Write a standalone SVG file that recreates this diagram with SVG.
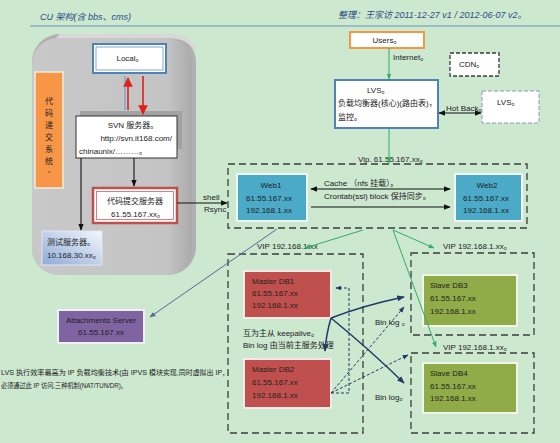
<svg xmlns="http://www.w3.org/2000/svg" width="560" height="443" viewBox="0 0 560 443">
<defs>
<style>
text{font-family:"Liberation Sans","Noto Sans CJK SC",sans-serif;font-size:8px;fill:#222}
.ttl{font-style:italic;fill:#2c4d86;font-size:9px}
.mid{text-anchor:middle}
.dash{fill:none;stroke:#3c3c3c;stroke-width:1.3;stroke-dasharray:7,4}
.c-blk{fill:none;stroke:#111;stroke-width:1.1}
.c-grn{fill:none;stroke:#2fae6a;stroke-width:1}
.c-nav{fill:none;stroke:#1f3a68;stroke-width:1.5}
.c-ndash{fill:none;stroke:#1f3a68;stroke-width:1;stroke-dasharray:3,2}
.c-sl{fill:none;stroke:#5c6598;stroke-width:1}
.web{fill:#4aaac8;stroke:#eef6f8;stroke-width:2}
.mdb{fill:#c0504d;stroke:#f4eaea;stroke-width:2}
.sdb{fill:#90ac48;stroke:#f2f5ea;stroke-width:2}
.note{font-size:7px}
</style>
<marker id="ab" viewBox="0 0 10 10" refX="9" refY="5" markerWidth="6" markerHeight="6" orient="auto-start-reverse"><path d="M0,1 L10,5 L0,9z" fill="#111"/></marker>
<marker id="ag" viewBox="0 0 10 10" refX="9" refY="5" markerWidth="6" markerHeight="6" orient="auto"><path d="M0,1 L10,5 L0,9z" fill="#2fae6a"/></marker>
<marker id="an" viewBox="0 0 10 10" refX="9" refY="5" markerWidth="5" markerHeight="5" orient="auto"><path d="M0,1 L10,5 L0,9z" fill="#1f3a68"/></marker>
<marker id="and" viewBox="0 0 10 10" refX="9" refY="5" markerWidth="6" markerHeight="6" orient="auto"><path d="M0,1 L10,5 L0,9z" fill="#1f3a68"/></marker>
<marker id="as" viewBox="0 0 10 10" refX="9" refY="5" markerWidth="6" markerHeight="6" orient="auto"><path d="M0,1 L10,5 L0,9z" fill="#5c6598"/></marker>
<marker id="ar" viewBox="0 0 10 10" refX="9" refY="5" markerWidth="6" markerHeight="6" orient="auto"><path d="M0,0 L10,5 L0,10z" fill="#e0201c"/></marker>
<linearGradient id="gtest" x1="0" y1="1" x2="1" y2="0"><stop offset="0" stop-color="#8eaad8"/><stop offset="1" stop-color="#f4f7fb"/></linearGradient>
<linearGradient id="gbox" x1="0" y1="0" x2="1" y2="0"><stop offset="0" stop-color="#c8c8c8"/><stop offset="0.85" stop-color="#c4c4c4"/><stop offset="1" stop-color="#aaaaaa"/></linearGradient>
</defs>
<rect x="0" y="0" width="560" height="443" fill="#cce8cf"/>

<g id="title">
<text x="40" y="20" class="ttl">CU 架构(含 bbs、cms)</text>
<text x="338" y="18" class="ttl" font-size="8">整理：王家访 2011-12-27   v1 /   2012-06-07 v2。</text>
<line x1="30" y1="26" x2="560" y2="26" stroke="#6f92bd" stroke-width="1"/>
</g>

<g id="code-system">
<rect x="32" y="34" width="164" height="241" rx="28" fill="#b0b0b0"/>
<rect x="32" y="38" width="160" height="237" rx="26" fill="url(#gbox)"/>
<path d="M60,34 L170,34 Q190,34 196,48 L192,48 Q186,38 166,38 L56,38 Z" fill="#d8d8d8"/>
</g>

<g id="local">
<rect x="93" y="44" width="73" height="29" fill="#fff" stroke="#4f81bd" stroke-width="2"/>
<rect x="96" y="47" width="67" height="23" fill="none" stroke="#4f81bd" stroke-width="0.7"/>
<text x="130" y="61" class="mid">Local。</text>
</g>

<g id="orange">
<rect x="35" y="72" width="28" height="116" fill="#f79646" stroke="#e9eee0" stroke-width="1.5"/>
<text class="mid" font-size="9"><tspan x="49" y="104">代</tspan><tspan x="49" y="116">码</tspan><tspan x="49" y="128">递</tspan><tspan x="49" y="140">交</tspan><tspan x="49" y="152">系</tspan><tspan x="49" y="164">统</tspan><tspan x="51" y="172" font-size="6">。</tspan></text>
</g>

<g id="svn">
<rect x="80" y="111" width="102" height="38" fill="#a2a2a2"/>
<rect x="76" y="116" width="101" height="42" fill="#fff" stroke="#333" stroke-width="1"/>
<text x="133" y="128" class="mid">SVN 服务器。</text>
<text x="172" y="141" text-anchor="end">http://svn.it168.com/</text>
<text x="79" y="154">chinaunix/………。</text>
</g>

<g id="submit-server">
<rect x="93" y="188" width="84" height="35" fill="#fff" stroke="#c0504d" stroke-width="2.5"/>
<rect x="96.5" y="191.5" width="77" height="28" fill="none" stroke="#c0504d" stroke-width="0.7"/>
<text x="135" y="204" class="mid">代码提交服务器</text>
<text x="138" y="217" class="mid">61.55.167.xx。</text>
</g>

<g id="test-server">
<rect x="42" y="231" width="60" height="34" fill="url(#gtest)" stroke="#dfe8f3" stroke-width="1"/>
<text x="47" y="245">测试服务器。</text>
<text x="47" y="258">10.168.30.xx。</text>
</g>

<g id="users">
<rect x="350" y="32" width="74" height="16" fill="#fff" stroke="#f79646" stroke-width="2"/>
<text x="387" y="43" class="mid">Users。</text>
</g>

<g id="cdn">
<rect x="450" y="53" width="49" height="23" fill="#fff" stroke="#3c3c3c" stroke-width="1.3" stroke-dasharray="4,2"/>
<text x="459" y="67">CDN。</text>
</g>

<g id="lvs">
<rect x="335" y="80" width="103" height="48" fill="#fff" stroke="#4f81bd" stroke-width="2"/>
<text x="367" y="93">LVS。</text>
<text x="338" y="106">负载均衡器(核心)(路由表)，</text>
<text x="338" y="120">监控。</text>
</g>

<g id="lvs-backup">
<rect x="482" y="91" width="57" height="32" fill="#fff" stroke="#8a9cb0" stroke-width="1" stroke-dasharray="4,2"/>
<text x="497" y="105">LVS。</text>
</g>

<g id="web-cluster">
<rect x="228" y="164" width="299" height="64" class="dash"/>
<text x="358" y="162">Vip.   61.55.167.xx。</text>
</g>

<g id="web1">
<rect x="237" y="174" width="70" height="47" class="web"/>
<text x="271" y="188" class="mid">Web1</text>
<text x="269" y="201" class="mid">61.55.167.xx</text>
<text x="269" y="213" class="mid">192.168.1.xx</text>
</g>

<g id="web2">
<rect x="455" y="174" width="67" height="47" class="web"/>
<text x="487" y="188" class="mid">Web2</text>
<text x="486" y="201" class="mid">61.55.167.xx</text>
<text x="486" y="213" class="mid">192.168.1.xx</text>
</g>

<g id="attachments">
<rect x="58" y="310" width="86" height="33" fill="#8064a2" stroke="#f1eef5" stroke-width="2"/>
<text x="101" y="323" class="mid">Attachments Server</text>
<text x="101" y="335" class="mid">61.55.167.xx</text>
</g>

<g id="master-group">
<rect x="228" y="254" width="135" height="179" class="dash"/>
<text x="257" y="249">VIP 192.168.1.xx</text>
<text x="243" y="336">互为主从 keepalive。</text>
<text x="243" y="348">Bin log 由当前主服务处理</text>
</g>

<g id="master-db1">
<rect x="244" y="271" width="87" height="47" class="mdb"/>
<text x="252" y="284">Master DB1</text>
<text x="252" y="296">61.55.167.xx</text>
<text x="252" y="308">192.168.1.xx</text>
</g>

<g id="master-db2">
<rect x="244" y="359" width="87" height="49" class="mdb"/>
<text x="252" y="372">Master DB2</text>
<text x="252" y="385">61.55.167.xx</text>
<text x="252" y="398">192.168.1.xx</text>
</g>

<g id="slave-group3">
<rect x="411" y="253" width="123" height="82" class="dash"/>
<text x="443" y="249">VIP 192.168.1.xx。</text>
</g>

<g id="slave-db3">
<rect x="423" y="275" width="94" height="51" class="sdb"/>
<text x="430" y="288">Slave DB3</text>
<text x="430" y="301">61.55.167.xx</text>
<text x="430" y="314">192.168.1.xx</text>
</g>

<g id="slave-group4">
<rect x="411" y="353" width="123" height="80" class="dash"/>
<text x="443" y="350">VIP 192.168.1.xx。</text>
</g>

<g id="slave-db4">
<rect x="423" y="363" width="94" height="50" class="sdb"/>
<text x="430" y="376">Slave DB4</text>
<text x="430" y="389">61.55.167.xx</text>
<text x="430" y="401">192.168.1.xx</text>
</g>

<g id="note">
<text x="1" y="375" class="note" textLength="146" lengthAdjust="spacingAndGlyphs">LVS 执行效率最高为 IP 负载均衡技术(由 IPVS</text>
<text x="149" y="375" class="note" textLength="80" lengthAdjust="spacingAndGlyphs">模块实现,同时虚拟出 IP，</text>
<text x="1" y="388" class="note" textLength="126" lengthAdjust="spacingAndGlyphs">必须通过此 IP 访问,三种机制(NAT/TUN/DR)。</text>
</g>

<g id="connectors">
<line x1="125" y1="110" x2="125" y2="76" stroke="#4f9fd0" stroke-width="1"/>
<line x1="128" y1="110" x2="128" y2="78" stroke="#e0201c" stroke-width="1.6" marker-end="url(#ar)"/>
<line x1="143" y1="76" x2="143" y2="114" stroke="#e0201c" stroke-width="1.6" marker-end="url(#ar)"/>
<line x1="134" y1="158" x2="134" y2="186" class="c-blk" marker-end="url(#ab)"/>
<line x1="81" y1="158" x2="81" y2="230" class="c-blk" marker-end="url(#ab)"/>
<line x1="177" y1="203" x2="227" y2="203" class="c-blk" marker-end="url(#ab)"/>
<text x="203" y="200" font-size="7">shell</text>
<text x="204" y="212" font-size="7">Rsync</text>
<line x1="389" y1="48" x2="389" y2="79" class="c-grn" marker-end="url(#ag)"/>
<text x="393" y="60" font-size="7">Internet。</text>
<line x1="389" y1="128" x2="389" y2="163" class="c-grn" marker-end="url(#ag)"/>
<line x1="439" y1="113" x2="481" y2="113" class="c-blk" marker-start="url(#ab)" marker-end="url(#ab)"/>
<text x="446" y="111">Hot Back。</text>
<line x1="311" y1="189" x2="450" y2="189" class="c-blk" marker-start="url(#ab)" marker-end="url(#ab)"/>
<line x1="311" y1="207" x2="450" y2="207" class="c-blk" marker-end="url(#ab)"/>
<text x="324" y="186">Cache  （nfs 挂载）。</text>
<text x="324" y="199">Crontab(ssl) block  保持同步。</text>
<line x1="363" y1="230" x2="305" y2="248" class="c-grn" marker-end="url(#ag)"/>
<line x1="393" y1="230" x2="434" y2="248" class="c-grn" marker-end="url(#ag)"/>
<line x1="393" y1="230" x2="436" y2="347" class="c-grn" marker-end="url(#ag)"/>
<line x1="277" y1="229" x2="150" y2="317" class="c-sl" marker-end="url(#as)"/>
<path d="M331,318 Q365,305 404,297" class="c-nav" marker-end="url(#an)"/>
<path d="M331,318 Q326,335 325,351" class="c-nav" marker-end="url(#an)"/>
<path d="M331,318 Q370,350 404,383" class="c-nav" marker-end="url(#an)"/>
<path d="M331,393 L349,393 L349,288 L336,288" class="c-ndash" marker-end="url(#and)"/>
<path d="M331,393 L404,307" class="c-ndash" marker-end="url(#and)"/>
<path d="M331,393 L408,355" class="c-ndash" marker-end="url(#and)"/>
<text x="375" y="325">Bin log 。</text>
<text x="375" y="400">Bin log。</text>
</g>
</svg>
